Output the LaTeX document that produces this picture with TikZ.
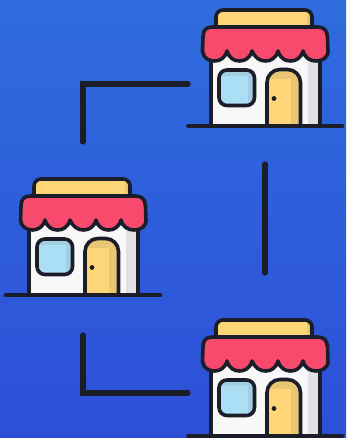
\documentclass[tikz,border=0pt]{standalone}
\definecolor{ink}{HTML}{1B1E28}
\definecolor{awn}{HTML}{F84A6C}
\definecolor{yel}{HTML}{FFD677}
\definecolor{yeld}{HTML}{E9C673}
\definecolor{wall}{HTML}{F8F8F8}
\definecolor{walld}{HTML}{E1E1E3}
\definecolor{glass}{HTML}{ABDFF5}
\definecolor{glassd}{HTML}{A3CFE3}
\definecolor{bgtop}{HTML}{2F6CDD}
\definecolor{bgbot}{HTML}{2D4FD8}
\tikzset{
  outl/.style={draw=ink,line width=3.6pt,line join=round},
  conn/.style={draw=ink,line width=5.2pt,line cap=round,line join=miter},
  gnd/.style={draw=ink,line width=4.8pt,line cap=round},
  shop/.pic={
    % roof
    \fill[yel,rounded corners=7pt] (36,32) -- (36,10) -- (132,10) -- (132,32) -- cycle;
    \begin{scope}
      \clip[rounded corners=7pt] (36,32) -- (36,10) -- (132,10) -- (132,32) -- cycle;
      \fill[yeld] (127,9) rectangle (133,32);
    \end{scope}
    \draw[outl,rounded corners=7pt] (36,32) -- (36,10) -- (132,10) -- (132,32);
    % wall
    \fill[wall] (31,45) rectangle (140,125);
    \fill[walld] (128,45) rectangle (140,125);
    \draw[outl] (31,52) -- (31,125);
    \draw[outl] (140,52) -- (140,125);
    % window
    \fill[glass,rounded corners=8pt] (39,70) rectangle (74.5,105.5);
    \begin{scope}
      \clip[rounded corners=8pt] (39,70) rectangle (74.5,105.5);
      \fill[glassd] (39,70) rectangle (74.5,76);
      \fill[glassd] (68,70) rectangle (74.5,105.5);
    \end{scope}
    \draw[outl,rounded corners=8pt] (39,70) rectangle (74.5,105.5);
    % door
    \begin{scope}
      \clip (80,60) rectangle (128,125);
      \fill[yel,rounded corners=13pt] (87,140) -- (87,69.5) -- (120.5,69.5) -- (120.5,140) -- cycle;
      \clip[rounded corners=13pt] (87,140) -- (87,69.5) -- (120.5,69.5) -- (120.5,140) -- cycle;
      \fill[yeld] (87,69) rectangle (121,79);
      \fill[yeld] (111,69) rectangle (121,125);
    \end{scope}
    \begin{scope}
      \clip (80,60) rectangle (128,125);
      \draw[outl,rounded corners=13pt] (87,140) -- (87,69.5) -- (120.5,69.5) -- (120.5,140);
    \end{scope}
    \fill[ink] (94,98.5) circle[radius=2.4];
    % awning
    \draw[outl,fill=awn] (23,37)
      .. controls (23,30) and (26,27) .. (33,27)
      -- (137,27)
      .. controls (144,27) and (147,30) .. (147.5,37)
      -- (148,51)
      .. controls (148,58) and (142,61) .. (136,61)
      .. controls (130,61) and (125,58) .. (123,51)
      .. controls (121,58) and (116,61) .. (110.5,61)
      .. controls (105,61) and (100,58) .. (98,51)
      .. controls (96,58) and (91,61) .. (85.5,61)
      .. controls (80,61) and (75,58) .. (72,51)
      .. controls (70,58) and (65,61) .. (59.5,61)
      .. controls (54,61) and (49,58) .. (47,51)
      .. controls (45,58) and (40,61) .. (34.5,61)
      .. controls (29,61) and (23,58) .. (22.5,51)
      -- cycle;
  }
}
\begin{document}
\begin{tikzpicture}[x=1pt,y=-1pt]
\useasboundingbox (0,0) rectangle (346,438);
\clip (0,0) rectangle (346,438);
\fill[top color=bgtop,bottom color=bgbot] (0,0) rectangle (346,438);
\pic at (180,0) {shop};
\pic at (-2,169) {shop};
\pic at (180,310) {shop};
\coordinate (gta) at (188.5,126); \coordinate (gtb) at (342,126);
\coordinate (gla) at (6,295); \coordinate (glb) at (160,295);
\coordinate (gba) at (188.5,436); \coordinate (gbb) at (342,436);
\draw[gnd] (gta) -- (gtb);
\draw[gnd] (gla) -- (glb);
\draw[gnd] (gba) -- (gbb);
\coordinate (c1a) at (188,84); \coordinate (c1b) at (83,84); \coordinate (c1c) at (83,142);
\coordinate (c2a) at (265,164); \coordinate (c2b) at (265,273);
\coordinate (c3a) at (83,335); \coordinate (c3b) at (83,393); \coordinate (c3c) at (188,393);
\draw[conn] (c1a) -- (c1b) -- (c1c);
\draw[conn] (c2a) -- (c2b);
\draw[conn] (c3a) -- (c3b) -- (c3c);
\end{tikzpicture}
\end{document}
